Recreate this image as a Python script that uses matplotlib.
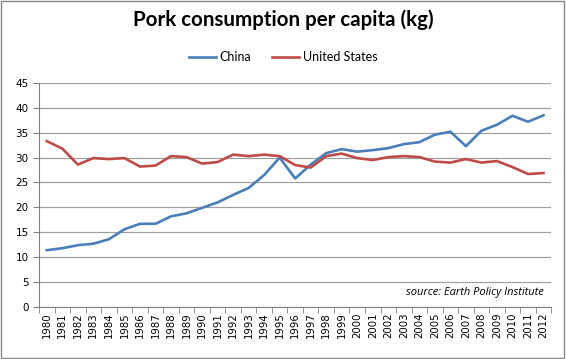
import matplotlib.pyplot as plt
import numpy as np

years = [str(y) for y in range(1980, 2013)]
china = [11.4, 11.8, 12.4, 12.7, 13.6, 15.6, 16.7, 16.7, 18.2, 18.8, 19.9, 21.0,
         22.5, 23.9, 26.5, 30.0, 25.8, 28.6, 30.9, 31.7, 31.2, 31.5, 31.9, 32.7,
         33.1, 34.6, 35.2, 32.3, 35.4, 36.6, 38.4, 37.2, 38.5]
usa = [33.3, 31.8, 28.6, 29.9, 29.7, 29.9, 28.2, 28.4, 30.3, 30.1, 28.8, 29.1,
       30.6, 30.3, 30.6, 30.3, 28.5, 28.0, 30.3, 30.8, 29.9, 29.5, 30.1, 30.3,
       30.1, 29.2, 29.0, 29.7, 29.0, 29.3, 28.1, 26.7, 26.9]

fig = plt.figure(figsize=(5.66, 3.59), dpi=100)
ax = fig.add_axes([0.069, 0.145, 0.905, 0.624])

x = np.arange(len(years))
l1, = ax.plot(x, china, color='#4a7ebb', lw=1.9, label='China')
l2, = ax.plot(x, usa, color='#be4b48', lw=1.9, label='United States')

ax.set_xlim(-0.5, len(years) - 0.5)
ax.set_ylim(0, 45)
ax.set_yticks(range(0, 46, 5))
ax.yaxis.grid(True, color='#a0a0a0', lw=0.9)
ax.set_axisbelow(True)
ax.set_xticks(x)
ax.set_xticklabels(years, rotation=90, fontsize=7.3, family='DejaVu Sans')
ax.set_xticks(np.arange(-0.5, len(years), 1), minor=True)
ax.tick_params(axis='x', which='major', length=0, pad=4)
ax.tick_params(axis='x', which='minor', length=4, color='#808080', direction='out')
ax.tick_params(axis='y', length=4, color='#808080', labelsize=7.5)
for s in ['top', 'right']:
    ax.spines[s].set_visible(False)
for s in ['left', 'bottom']:
    ax.spines[s].set_color('#808080')

ax.text(0.985, 0.04, 'source: Earth Policy Institute', transform=ax.transAxes,
        ha='right', va='bottom', style='italic', fontsize=8, family='Open Sans')

fig.text(0.5, 0.945, 'Pork consumption per capita (kg)', ha='center', va='center',
         fontsize=14.8, weight='bold', family='Lato')
fig.legend(handles=[l1, l2], loc='center', bbox_to_anchor=(0.5, 0.84), ncol=2,
           frameon=False, prop={'family': 'Lato', 'size': 9}, handlelength=2.2,
           columnspacing=1.6, handletextpad=0.3)

fig.patches.append(plt.Rectangle((0.002, 0.003), 0.995, 0.994, transform=fig.transFigure,
                                 fill=False, edgecolor='#888888', lw=1))

fig.savefig('out.png', dpi=100)
